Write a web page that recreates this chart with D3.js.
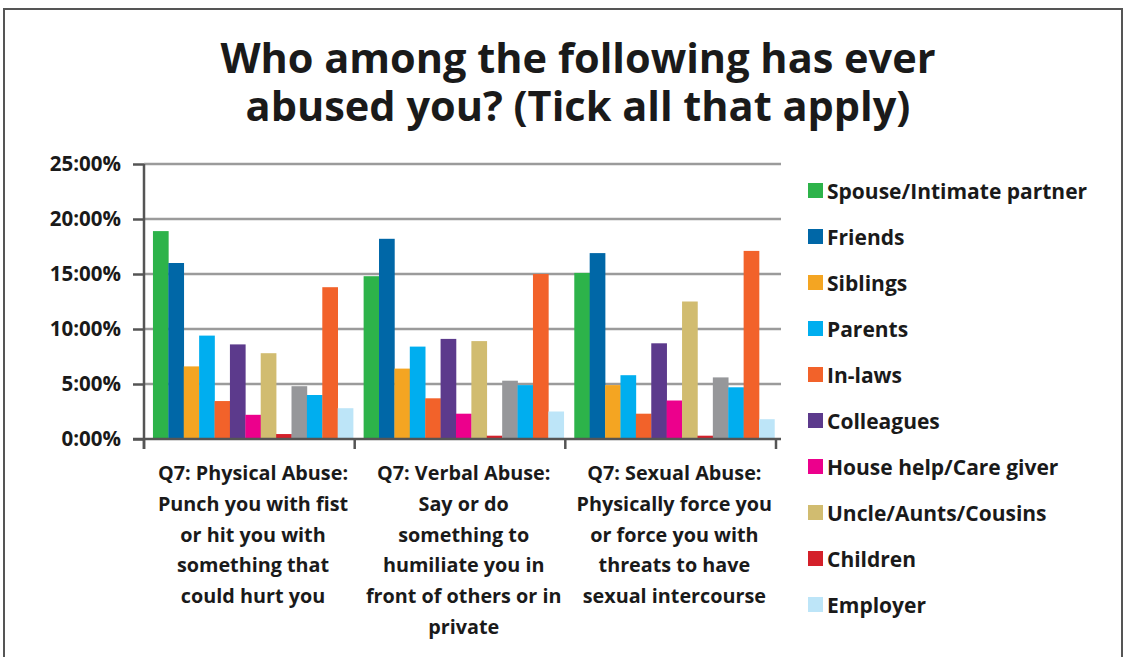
<!DOCTYPE html>
<html>
<head>
	<title></title>
	<script src="https://d3js.org/d3.v7.min.js"></script>
	<style>
		body { margin: 0; background: #fff; }
		text { font-family: "Open Sans", sans-serif; font-weight: bold; fill: #1a1a1a; }
		.grid line { stroke: #9b9b9b; stroke-width: 2.5; }
		.axis line, .axis path { stroke: #555; stroke-width: 2.5; fill: none; }
	</style>
</head>
<body>
	<svg width="1125" height="657"></svg>
<script type="text/javascript">

	// categories (label lines)
	var categories = [
		["Q7: Physical Abuse:", "Punch you with fist", "or hit you with", "something that", "could hurt you"],
		["Q7: Verbal Abuse:", "Say or do", "something to", "humiliate you in", "front of others or in", "private"],
		["Q7: Sexual Abuse:", "Physically force you", "or force you with", "threats to have", "sexual intercourse"]
	];

	// series names, in bar order; the 3 unnamed ones are not in the legend
	var seriesNames = ["Spouse/Intimate partner", "Friends", "Siblings", "Parents", "In-laws", "Colleagues",
		"House help/Care giver", "Uncle/Aunts/Cousins", "Children", "Series 10", "Series 11", "Series 12", "Employer"];
	var legendNames = ["Spouse/Intimate partner", "Friends", "Siblings", "Parents", "In-laws", "Colleagues",
		"House help/Care giver", "Uncle/Aunts/Cousins", "Children", "Employer"];
	var colors = ["#2db34a", "#0067a7", "#f4a522", "#00aeef", "#f2622a", "#5c3a8c",
		"#ec008c", "#d1bc70", "#d4202a", "#96979a", "#00aeef", "#f2622a", "#bde5f8"];

	// percent values, one array per category
	var physical = [18.9, 16.0, 6.6, 9.4, 3.45, 8.6, 2.2, 7.8, 0.45, 4.8, 4.0, 13.8, 2.8];
	var verbal   = [14.8, 18.2, 6.4, 8.4, 3.7, 9.1, 2.3, 8.9, 0.3, 5.3, 4.9, 15.0, 2.5];
	var sexual   = [15.1, 16.9, 4.9, 5.8, 2.3, 8.7, 3.5, 12.5, 0.3, 5.6, 4.7, 17.1, 1.8];
	var values = [physical, verbal, sexual];

	var titleLines = ["Who among the following has ever", "abused you? (Tick all that apply)"];
	var yTicks = [0, 5, 10, 15, 20, 25];
	var yTickLabels = ["0:00%", "5:00%", "10:00%", "15:00%", "20:00%", "25:00%"];

	var svg = d3.select("svg");
	const margin = {top: 164, left: 144, right: 344, bottom: 218};
	const width = 1125 - margin.left - margin.right;  // 637
	const height = 657 - margin.top - margin.bottom;  // 275

	// frame
	svg.append("rect")
		.attr("x", 4).attr("y", 9)
		.attr("width", 1118).attr("height", 660)
		.attr("fill", "none").attr("stroke", "#555").attr("stroke-width", 2);

	// title
	svg.append("text")
		.attr("text-anchor", "middle")
		.attr("font-size", 41.5)
		.selectAll("tspan")
		.data(titleLines)
		.enter().append("tspan")
		.attr("x", 578)
		.attr("y", function(d, i) { return 73 + i * 48; })
		.text(function(d) { return d; });

	const g = svg.append("g").attr("transform", "translate(" + margin.left + "," + margin.top + ")");

	var x0 = d3.scaleBand()
		.domain(d3.range(categories.length))
		.range([0, 632])
		.paddingInner(0.05)
		.paddingOuter(0.025)
		.align(0.85);
	var x1 = d3.scaleBand()
		.domain(seriesNames)
		.range([0, x0.bandwidth()]);
	var y = d3.scaleLinear()
		.domain([0, 25])
		.range([height, 0]);
	var z = d3.scaleOrdinal()
		.domain(seriesNames)
		.range(colors);

	// gridlines
	g.append("g")
		.attr("class", "grid")
		.selectAll("line")
		.data(yTicks.slice(1))
		.enter().append("line")
		.attr("x1", 0).attr("x2", width)
		.attr("y1", function(d) { return y(d); })
		.attr("y2", function(d) { return y(d); });

	// bars
	g.append("g")
		.selectAll("g")
		.data(values)
		.enter().append("g")
		.attr("transform", function(d, i) { return "translate(" + x0(i) + ",0)"; })
		.selectAll("rect")
		.data(function(d) { return d.map(function(v, j) { return {key: seriesNames[j], value: v}; }); })
		.enter().append("rect")
		.attr("x", function(d) { return x1(d.key); })
		.attr("y", function(d) { return y(d.value); })
		.attr("width", x1.bandwidth() + 0.3)
		.attr("height", function(d) { return y(0) - y(d.value); })
		.attr("fill", function(d) { return z(d.key); });

	// y axis
	const yAxis = g.append("g")
		.attr("class", "axis")
		.call(d3.axisLeft(y).tickValues(yTicks).tickSize(11).tickPadding(12)
			.tickFormat(function(d, i) { return yTickLabels[i]; }));
	yAxis.select(".domain").attr("d", "M0," + (height + 10) + "V0");
	yAxis.selectAll("text").attr("font-size", 20.5).attr("fill", "#1a1a1a");

	// x axis
	const xAxis = g.append("g")
		.attr("class", "axis")
		.attr("transform", "translate(0," + height + ")");
	xAxis.append("path").attr("d", "M-11,0H" + width);
	var bounds = [0, 210.7, 421.3, 632];
	xAxis.selectAll("line")
		.data(bounds)
		.enter().append("line")
		.attr("x1", function(d) { return d; }).attr("x2", function(d) { return d; })
		.attr("y1", 0).attr("y2", 10);

	// category labels
	xAxis.selectAll("text.cat")
		.data(categories)
		.enter().append("text")
		.attr("class", "cat")
		.attr("text-anchor", "middle")
		.attr("font-size", 19.8)
		.attr("transform", function(d, i) { return "translate(" + (x0(i) + x0.bandwidth() / 2) + ",41)"; })
		.selectAll("tspan")
		.data(function(d) { return d; })
		.enter().append("tspan")
		.attr("x", 0)
		.attr("y", function(d, i) { return i * 30.8; })
		.text(function(d) { return d; });

	// legend
	var legend = svg.append("g")
		.selectAll("g")
		.data(legendNames)
		.enter().append("g")
		.attr("transform", function(d, i) { return "translate(808," + (183 + i * 46) + ")"; });
	legend.append("rect")
		.attr("width", 15).attr("height", 15)
		.attr("fill", function(d) { return z(d); });
	legend.append("text")
		.attr("x", 19).attr("y", 15.5)
		.attr("font-size", 21)
		.text(function(d) { return d; });

</script>
</body>
</html>
